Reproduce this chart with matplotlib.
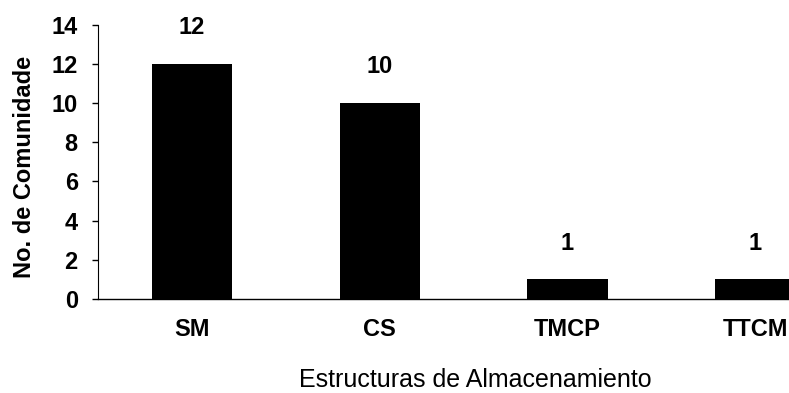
import matplotlib
matplotlib.use("Agg")
import matplotlib.pyplot as plt

categories = ["SM", "CS", "TMCP", "TTCM"]
counts = [12, 10, 1, 1]
y_ticks = [0, 2, 4, 6, 8, 10, 12, 14]

plt.rcParams['font.family'] = ['Liberation Sans', 'DejaVu Sans']

fig = plt.figure(figsize=(7.89, 3.93), dpi=100)
ax = fig.add_axes([0.1242, 0.2392, 0.8758, 0.698])

x = range(len(categories))
bars = ax.bar(x, counts, width=0.427, color="black")

# value labels above each bar
for xi, c in zip(x, counts):
    ax.text(xi, c + 1.85, str(c), ha="center", va="center", fontsize=17, fontweight="bold")

ax.set_xlim(-0.5, 3.18)
ax.set_ylim(0, 14)
ax.set_yticks(y_ticks)
ax.set_yticklabels([str(t) for t in y_ticks], fontsize=17, fontweight="bold")
ax.set_xticks(list(x))
ax.set_xticklabels(categories, fontsize=17, fontweight="bold")
ax.tick_params(axis="x", length=0, pad=14)
ax.tick_params(axis="y", length=4.5, width=1, pad=10)

ax.spines["top"].set_visible(False)
ax.spines["right"].set_visible(False)
ax.spines["left"].set_linewidth(0.8)
ax.spines["bottom"].set_linewidth(1.0)

fig.text(475 / 789, 0.015, "Estructuras de Almacenamiento", ha="center", va="baseline", fontsize=18)
fig.text(25 / 789, 0.575, "No. de Comunidade", ha="center", va="center", rotation=90,
         fontsize=17, fontweight="bold")

fig.savefig("out.png", dpi=100)
